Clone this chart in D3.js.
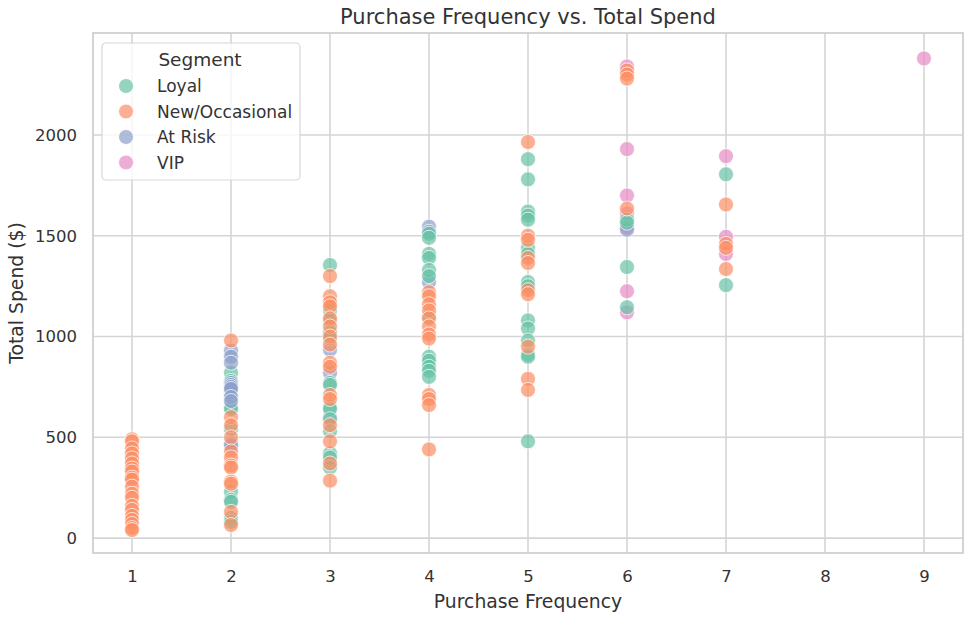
<!DOCTYPE html>
<html>
<head>
<meta charset="utf-8">
<script src="https://cdn.jsdelivr.net/npm/d3@7"></script>
<style>
  body { margin: 0; background: #fff; }
  svg { display: block; font-family: "DejaVu Sans", sans-serif; }
</style>
</head>
<body>
<div id="chart"></div>
<script>
// values: [purchase frequency, total spend]
const segments = ["Loyal", "New/Occasional", "At Risk", "VIP"];
const colores = ["#66c2a5", "#fc8d62", "#8da0cb", "#e78ac3"];

const loyal = [
  [2, 820], [2, 780], [2, 720], [2, 650], [2, 640], [2, 540], [2, 230], [2, 190], [2, 180], [2, 100], [2, 80],
  [3, 1355], [3, 1130], [3, 1080], [3, 1020], [3, 990], [3, 770], [3, 760], [3, 650], [3, 640], [3, 590], [3, 530], [3, 420], [3, 400], [3, 350],
  [4, 1510], [4, 1490], [4, 1410], [4, 1390], [4, 1330], [4, 1300], [4, 1100], [4, 900], [4, 880], [4, 850], [4, 830], [4, 800],
  [5, 1880], [5, 1780], [5, 1620], [5, 1600], [5, 1580], [5, 1440], [5, 1410], [5, 1270], [5, 1250], [5, 1080], [5, 1040], [5, 980], [5, 910], [5, 900], [5, 480],
  [6, 1580], [6, 1565], [6, 1345], [6, 1145],
  [7, 1805], [7, 1255]
];

const newOcc = [
  [1, 490], [1, 480], [1, 445], [1, 420], [1, 395], [1, 370], [1, 345], [1, 330], [1, 300], [1, 290],
  [1, 255], [1, 220], [1, 200], [1, 160], [1, 140], [1, 110], [1, 90], [1, 70], [1, 50], [1, 40],
  [2, 980], [2, 600], [2, 560], [2, 500], [2, 430], [2, 400], [2, 360], [2, 350], [2, 280], [2, 270], [2, 130], [2, 65],
  [3, 1300], [3, 1200], [3, 1170], [3, 1150], [3, 1090], [3, 1050], [3, 1000], [3, 960], [3, 870], [3, 850], [3, 710], [3, 690], [3, 560], [3, 480], [3, 370], [3, 285],
  [4, 1220], [4, 1200], [4, 1160], [4, 1130], [4, 1090], [4, 1050], [4, 1010], [4, 990], [4, 710], [4, 690], [4, 660], [4, 440],
  [5, 1965], [5, 1500], [5, 1480], [5, 1390], [5, 1365], [5, 1230], [5, 1210], [5, 950], [5, 790], [5, 735],
  [6, 2320], [6, 2300], [6, 2280], [6, 1635],
  [7, 1655], [7, 1460], [7, 1440], [7, 1335]
];

const atRisk = [
  [2, 930], [2, 900], [2, 870], [2, 770], [2, 760], [2, 750], [2, 740], [2, 700], [2, 680], [2, 470], [2, 460],
  [3, 935], [3, 820], [3, 600],
  [4, 1545], [4, 1520], [4, 1270],
  [6, 1530]
];

const vip = [
  [6, 2340], [6, 1930], [6, 1700], [6, 1610], [6, 1540], [6, 1225], [6, 1120],
  [7, 1895], [7, 1495], [7, 1410],
  [9, 2380]
];

const xTicks = [1, 2, 3, 4, 5, 6, 7, 8, 9];
const yTicks = [0, 500, 1000, 1500, 2000];

const width = 973, height = 624;
const margin = {left: 93, right: 10, top: 33, bottom: 71};

const svg = d3.select("#chart").append("svg")
    .attr("width", width)
    .attr("height", height);

const scx = d3.scaleLinear([0.606, 9.394], [margin.left, width - margin.right]);
const scy = d3.scaleLinear([-74, 2506], [height - margin.bottom, margin.top]);
const scc = d3.scaleOrdinal(segments, colores);

// grid
const grid = svg.append("g");
grid.selectAll(".gx")
    .data(xTicks)
    .join("line")
    .attr("x1", d => scx(d)).attr("x2", d => scx(d))
    .attr("y1", margin.top).attr("y2", height - margin.bottom)
    .attr("stroke", "#d5d5d5").attr("stroke-width", 1.6);
grid.selectAll(".gy")
    .data(yTicks)
    .join("line")
    .attr("y1", d => scy(d)).attr("y2", d => scy(d))
    .attr("x1", margin.left).attr("x2", width - margin.right)
    .attr("stroke", "#d5d5d5").attr("stroke-width", 1.6);

// axes (ticks hidden, labels only)
const xAxis = svg.append("g")
    .attr("transform", `translate(0,${height - margin.bottom})`)
    .call(d3.axisBottom(scx).tickValues(xTicks).tickSize(0).tickPadding(17));
const yAxis = svg.append("g")
    .attr("transform", `translate(${margin.left},0)`)
    .call(d3.axisLeft(scy).tickValues(yTicks).tickFormat(d3.format("d")).tickSize(0).tickPadding(16));
[xAxis, yAxis].forEach(ax => {
  ax.select(".domain").remove();
  ax.selectAll("text")
    .attr("font-family", "DejaVu Sans, sans-serif")
    .attr("font-size", 16.5)
    .attr("fill", "#333");
});

// frame
svg.append("rect")
    .attr("x", margin.left).attr("y", margin.top)
    .attr("width", width - margin.left - margin.right)
    .attr("height", height - margin.top - margin.bottom)
    .attr("fill", "none")
    .attr("stroke", "#d0d0d0")
    .attr("stroke-width", 1.8);

// points
const puntos = [];
const grupos = [loyal, newOcc, atRisk, vip];
const maxLen = d3.max(grupos, g => g.length);
for (let i = 0; i < maxLen; i++) {
  grupos.forEach((g, k) => {
    if (i < g.length) puntos.push({x: g[i][0], y: g[i][1], seg: segments[k]});
  });
}
puntos.sort((a, b) => a.x - b.x);

svg.append("g").selectAll("circle")
    .data(puntos)
    .join("circle")
    .attr("cx", d => scx(d.x))
    .attr("cy", d => scy(d.y))
    .attr("r", 7.5)
    .attr("fill", d => scc(d.seg))
    .attr("fill-opacity", 0.7)
    .attr("stroke", "#fff")
    .attr("stroke-opacity", 0.8)
    .attr("stroke-width", 0.9);

// title and labels
svg.append("text")
    .attr("x", (margin.left + width - margin.right) / 2)
    .attr("y", 24)
    .attr("text-anchor", "middle")
    .attr("font-size", 21)
    .attr("fill", "#333")
    .text("Purchase Frequency vs. Total Spend");

svg.append("text")
    .attr("x", (margin.left + width - margin.right) / 2)
    .attr("y", 608)
    .attr("text-anchor", "middle")
    .attr("font-size", 18.8)
    .attr("fill", "#333")
    .text("Purchase Frequency");

svg.append("text")
    .attr("transform", `translate(23,${(margin.top + height - margin.bottom) / 2}) rotate(-90)`)
    .attr("text-anchor", "middle")
    .attr("font-size", 18.8)
    .attr("fill", "#333")
    .text("Total Spend ($)");

// legend
const leg = svg.append("g").attr("transform", "translate(102,43)");
leg.append("rect")
    .attr("width", 198).attr("height", 137)
    .attr("rx", 4)
    .attr("fill", "#fff").attr("fill-opacity", 0.8)
    .attr("stroke", "#d8d8d8").attr("stroke-width", 1.2);
leg.append("text")
    .attr("x", 98).attr("y", 23)
    .attr("text-anchor", "middle")
    .attr("font-size", 18.5)
    .attr("fill", "#333")
    .text("Segment");
const items = leg.selectAll(".item")
    .data(segments)
    .join("g")
    .attr("class", "item")
    .attr("transform", (d, i) => `translate(0,${43 + i * 25.5})`);
items.append("circle")
    .attr("cx", 24).attr("cy", 0).attr("r", 7.5)
    .attr("fill", d => scc(d)).attr("fill-opacity", 0.7)
    .attr("stroke", "#fff").attr("stroke-width", 0.9);
items.append("text")
    .attr("x", 55).attr("y", 6)
    .attr("font-size", 17)
    .attr("fill", "#333")
    .text(d => d);
</script>
</body>
</html>
